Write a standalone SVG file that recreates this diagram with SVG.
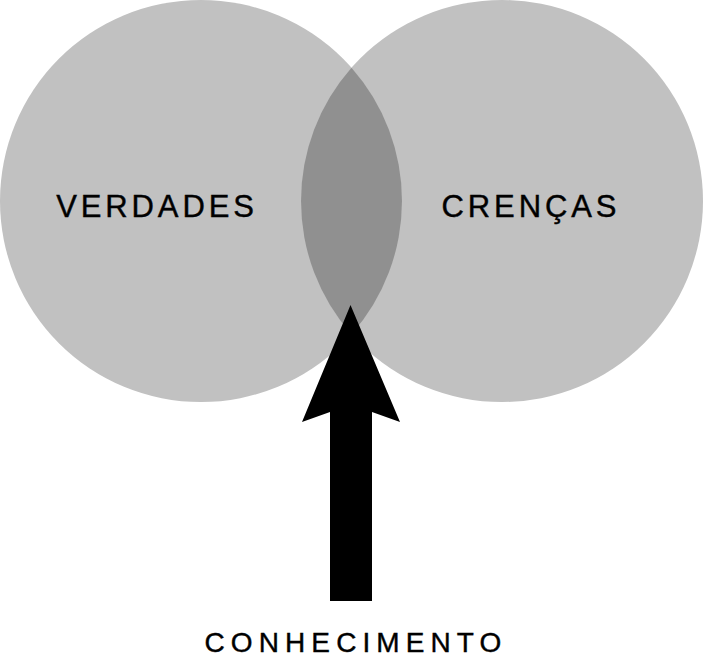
<svg xmlns="http://www.w3.org/2000/svg" width="703" height="662" viewBox="0 0 703 662">
<style>
.circle{fill:#c1c1c1}
.overlap{fill:#909090}
.lbl{font-family:"Liberation Sans",Arial,sans-serif;fill:#000;stroke:#000;stroke-width:0.4;text-anchor:middle}
.big{font-size:31px;letter-spacing:3.9px}
.small{font-size:28px;letter-spacing:6.1px}
.arrow{fill:#000}
</style>
<rect width="703" height="662" fill="#fff"/>
<g id="verdades">
<circle class="circle" cx="201" cy="201" r="201"/>
</g>
<g id="crencas">
<circle class="circle" cx="502" cy="201" r="201"/>
</g>
<g id="intersecao">
<path class="overlap" d="M351.5,67.8 A201,201 0 0 1 351.5,334.2 A201,201 0 0 1 351.5,67.8 Z"/>
</g>
<g id="labels-circles">
<text class="lbl big" x="157" y="217">VERDADES</text>
<text class="lbl big" x="531" y="217">CRENÇAS</text>
</g>
<g id="connectors">
<path class="arrow" d="M350.5,305 L400,422 L372,412 L372,601 L330,601 L330,412 L302,422 Z"/>
</g>
<g id="conhecimento">
<text class="lbl small" x="356" y="652">CONHECIMENTO</text>
</g>
</svg>
